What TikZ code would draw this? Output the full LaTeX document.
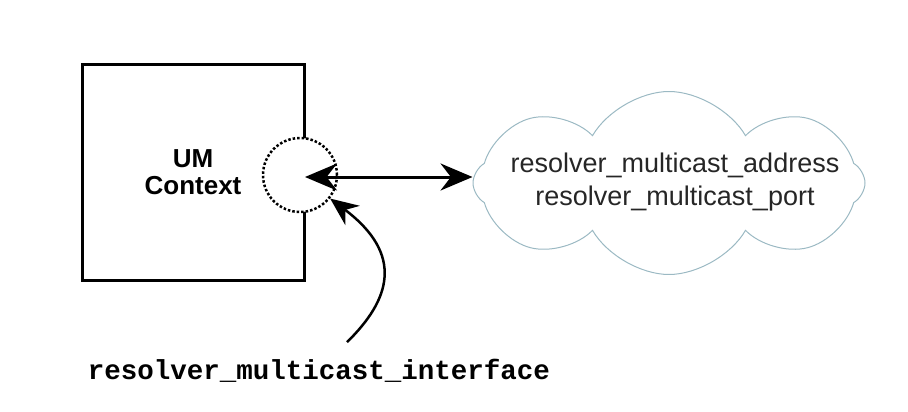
\documentclass[tikz,border=0pt]{standalone}
\usepackage{fontspec}
\setmainfont{Liberation Sans}
\setmonofont{Liberation Mono}
\usetikzlibrary{positioning,shapes,arrows.meta}
\definecolor{cloudline}{RGB}{155,185,195}

\begin{document}
\begin{tikzpicture}[
      x=1pt, y=-1pt,
      every node/.style={align=center, inner sep=0pt},
      ctxbox/.style={draw, line width=3pt, minimum width=222pt,
                     minimum height=215pt,
                     font=\fontsize{26}{27}\selectfont\bfseries},
      portcirc/.style={draw, circle, dotted, line width=2.5pt,
                       fill=white, minimum size=74pt},
      cloudbox/.style={draw=cloudline, cloud, cloud puffs=8,
                       cloud puff arc=120, aspect=2.1, line width=1pt,
                       minimum width=392pt, minimum height=183pt},
      cloudtext/.style={font=\fontsize{27}{33}\selectfont, text=black!85},
      codelabel/.style={font=\fontsize{27.5}{30}\selectfont\ttfamily\bfseries},
      dblarrow/.style={{Stealth[length=32pt,width=27pt]}-{Stealth[length=32pt,width=27pt]},
                       line width=3pt},
      curvarrow/.style={-{Stealth[length=28pt,width=24pt]}, line width=2.5pt},
  ]
    \useasboundingbox (0,0) rectangle (908,412);

    %% --- Context box and its port ---
    \node[ctxbox] (ctx) at (193,172.5) {UM\\Context};
    \node[portcirc] (port) at (300,175) {};

    %% --- Cloud with the address and port ---
    \node[cloudbox] (cloud) at (669,183) {};
    \node[cloudtext] (addr) at (675,182)
      {resolver\_multicast\_address\\resolver\_multicast\_port};

    %% --- Interface label ---
    \node[codelabel] (iface) at (319,371) {resolver\_multicast\_interface};

    %% --- Connectors ---
    \draw[dblarrow] ([xshift=5pt,yshift=-2pt]port.center)
      -- ([yshift=-2pt]port.center -| cloud.west);
    \draw[curvarrow] ([xshift=28pt,yshift=17pt]iface.north)
      .. controls (390,300) and (405,255) .. (port.-38);
  \end{tikzpicture}
\end{document}
